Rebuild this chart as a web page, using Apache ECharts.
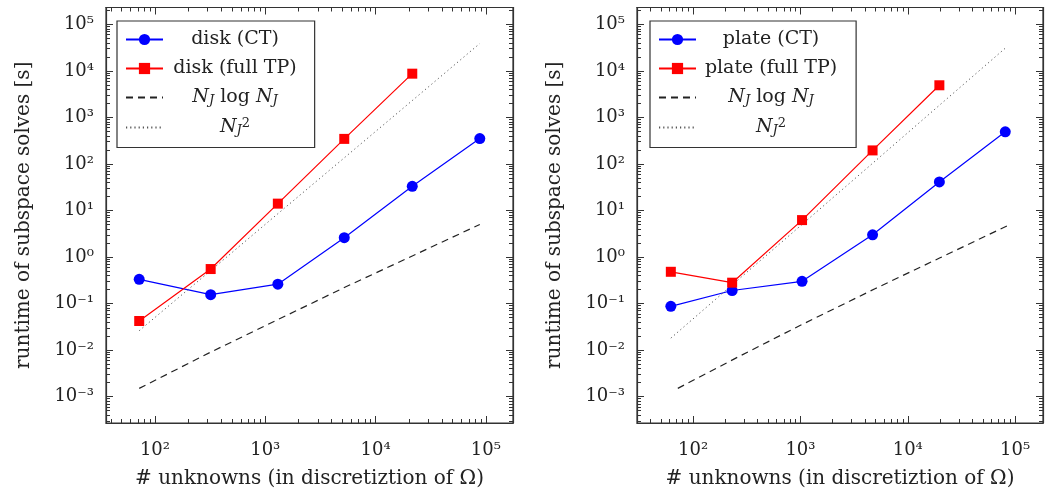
<!DOCTYPE html>
<html>
<head>
<meta charset="utf-8">
<script src="https://cdn.jsdelivr.net/npm/echarts@6/dist/echarts.min.js"></script>
<style>
  html, body { margin: 0; padding: 0; background: #fff; }
  #chart { width: 1063px; height: 495px; }
</style>
</head>
<body>
<div id="chart"></div>
<script>
// disk (left panel)
const diskN = [72, 320, 1300, 5200, 21500, 88000];
const diskCT = [0.33, 0.155, 0.26, 2.6, 33, 350];
const diskFullTP = [0.042, 0.55, 14, 345, 8700];
const diskNlogN = [0.0015, 0.009, 0.045, 0.22, 1.05, 5.0];
const diskN2 = [0.026, 0.51, 8.5, 135, 2300, 38700];

// plate (right panel)
const plateN = [62, 231, 1035, 4700, 19700, 81000];
const plateCT = [0.087, 0.19, 0.30, 3.0, 41, 490];
const plateFullTP = [0.48, 0.28, 6.2, 195, 4900];
const plateNlogNX = [72, 250, 1000, 5000, 20000, 85000];
const plateNlogN = [0.0015, 0.0067, 0.034, 0.21, 0.96, 4.7];
const plateN2 = [0.018, 0.25, 5.0, 103, 1820, 30700];

// tick labels
const xMajor = [100, 1000, 10000, 100000];
const yMajor = [0.001, 0.01, 0.1, 1, 10, 100, 1000, 10000, 100000];

const xTitle = '# unknowns (in discretiztion of Ω)';
const yTitle = 'runtime of subspace solves [s]';

const FONT = 'DejaVu Serif';
const INK = '#222';
const EDGE = '#333';

const pair = (xs, ys) => ys.map((y, i) => [xs[i], y]);

// 10^e with unicode superscripts
const SUP = { '-': '\u207b', '0': '\u2070', '1': '\u00b9', '2': '\u00b2', '3': '\u00b3', '4': '\u2074', '5': '\u2075' };
function powLabel(v) {
  const e = Math.round(Math.log10(v));
  return '10' + String(e).split('').map(c => SUP[c]).join('');
}

const edgeLine = { show: true, lineStyle: { color: EDGE, width: 1.2 } };
const tickMajor = { show: true, inside: true, length: 7, lineStyle: { color: EDGE, width: 1 } };
const tickMinor = { show: true, splitNumber: 9, length: 4, lineStyle: { color: EDGE, width: 1 } };
const titleStyle = { fontFamily: FONT, fontSize: 20, color: INK };
const tickFont = { fontFamily: FONT, fontSize: 18, color: INK };

function xAxes(g, min, max) {
  const base = { type: 'log', gridIndex: g, min: min, max: max,
    axisLine: edgeLine, axisTick: tickMajor, minorTick: tickMinor, splitLine: { show: false } };
  return [
    Object.assign({}, base, { position: 'bottom',
      axisLabel: Object.assign({ customValues: xMajor, formatter: powLabel, margin: 18 }, tickFont),
      name: xTitle, nameLocation: 'middle', nameGap: 46, nameTextStyle: titleStyle }),
    Object.assign({}, base, { position: 'top', axisLabel: { show: false } })
  ];
}

function yAxes(g) {
  const base = { type: 'log', gridIndex: g, min: 0.00027, max: 230000,
    axisLine: edgeLine, axisTick: tickMajor, minorTick: tickMinor, splitLine: { show: false } };
  return [
    Object.assign({}, base, { position: 'left',
      axisLabel: Object.assign({ customValues: yMajor, formatter: powLabel, margin: 12 }, tickFont),
      name: yTitle, nameLocation: 'middle', nameGap: 72, nameRotate: 90, nameTextStyle: titleStyle }),
    Object.assign({}, base, { position: 'right', axisLabel: { show: false } })
  ];
}

function legendRich(spacer) {
  return {
    gap: { width: spacer, align: 'center' },
    i: { fontFamily: FONT, fontStyle: 'italic', fontSize: 19, lineHeight: 20, color: INK, align: 'center' },
    sub: { fontFamily: FONT, fontStyle: 'italic', fontSize: 13, lineHeight: 10, color: INK, verticalAlign: 'bottom', align: 'center' },
    sup: { fontFamily: FONT, fontSize: 13, lineHeight: 6, color: INK, verticalAlign: 'top', align: 'center' },
    r: { fontFamily: FONT, fontSize: 19, lineHeight: 20, color: INK, align: 'center' }
  };
}
function legendLabel(name) {
  if (name === 'NlogN') return '{i|N}{sub|J}{r| log }{i|N}{sub|J}{gap|}';
  if (name === 'N2') return '{i|N}{sub|J}{sup|2}{gap|}';
  return '{r|' + name + '}{gap|}';
}

function legend(left, width, spacer, names) {
  return {
    orient: 'vertical', left: left, top: 21,
    data: names.map((n, i) => i < 2 ? n : { name: n, itemStyle: { opacity: 0 } }),
    backgroundColor: '#fff', borderColor: EDGE, borderWidth: 1.2,
    padding: [9, 10, 10, 8],
    itemWidth: 37, itemHeight: 14, itemGap: 10,
    formatter: legendLabel,
    textStyle: { fontFamily: FONT, fontSize: 19, color: INK, width: width, align: 'center', rich: legendRich(spacer) },
    selectedMode: false
  };
}

const BLUE = '#0000ff';
const RED = '#ff0000';

function panelSeries(ax, n, ns, ct, tp, nlx, nl, n2) {
  return [
    { name: n + ' (CT)', type: 'line', xAxisIndex: ax, yAxisIndex: ax, data: pair(ns, ct),
      symbol: 'circle', symbolSize: 11, color: BLUE, lineStyle: { color: BLUE, width: 1.2 }, itemStyle: { color: BLUE } },
    { name: n + ' (full TP)', type: 'line', xAxisIndex: ax, yAxisIndex: ax, data: pair(ns, tp),
      symbol: 'rect', symbolSize: 10, color: RED, lineStyle: { color: RED, width: 1.2 }, itemStyle: { color: RED } },
    { name: 'NlogN', type: 'line', xAxisIndex: ax, yAxisIndex: ax, data: pair(nlx, nl),
      symbol: 'none', color: '#222', lineStyle: { color: '#222', width: 1.2, type: [7, 5] } },
    { name: 'N2', type: 'line', xAxisIndex: ax, yAxisIndex: ax, data: pair(ns, n2),
      symbol: 'none', color: '#555', lineStyle: { color: '#555', width: 1, type: [1.2, 3] } }
  ];
}

const chart = echarts.init(document.getElementById('chart'));
chart.setOption({
  animation: false,
  grid: [
    { left: 106, top: 7.5, width: 407, height: 415.5, show: true, borderColor: EDGE, borderWidth: 1.2, backgroundColor: 'transparent' },
    { left: 637, top: 7.5, width: 406, height: 415.5, show: true, borderColor: EDGE, borderWidth: 1.2, backgroundColor: 'transparent' }
  ],
  xAxis: xAxes(0, 36, 176000).concat(xAxes(1, 30, 182000)),
  yAxis: yAxes(0).concat(yAxes(1)),
  legend: [
    legend(117, 150, 16, ['disk (CT)', 'disk (full TP)', 'NlogN', 'N2']),
    legend(650, 158, 18, ['plate (CT)', 'plate (full TP)', 'NlogN', 'N2'])
  ],
  series: panelSeries(0, 'disk', diskN, diskCT, diskFullTP, diskN, diskNlogN, diskN2)
    .concat(panelSeries(2, 'plate', plateN, plateCT, plateFullTP, plateNlogNX, plateNlogN, plateN2))
});
</script>
</body>
</html>
